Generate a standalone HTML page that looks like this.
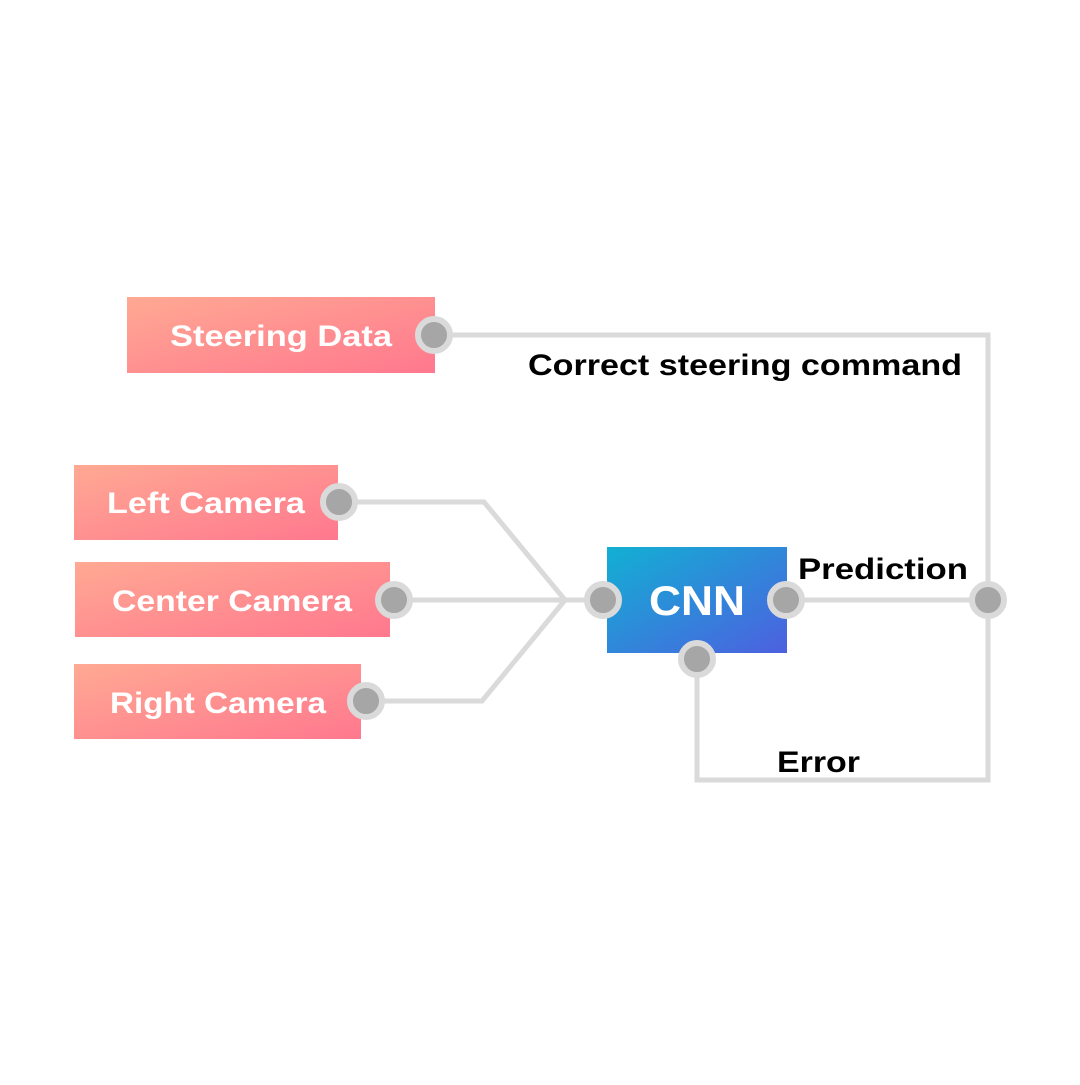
<!DOCTYPE html>
<html><head><meta charset="utf-8"><style>
html,body{margin:0;padding:0;background:#fff;}
svg text{font-family:"Liberation Sans",sans-serif;font-weight:bold;}
</style></head><body>
<svg width="1080" height="1080" viewBox="0 0 1080 1080" xmlns="http://www.w3.org/2000/svg">
<defs>
<linearGradient id="pk" x1="0" y1="0" x2="1" y2="1">
<stop offset="0" stop-color="#ffa993"/><stop offset="1" stop-color="#ff788e"/>
</linearGradient>
<linearGradient id="bl" x1="0" y1="0" x2="1" y2="1">
<stop offset="0" stop-color="#12b0d3"/><stop offset="1" stop-color="#4d60e0"/>
</linearGradient>
</defs>
<rect width="1080" height="1080" fill="#fff"/>
<g fill="none" stroke="#dadada" stroke-width="5">
<polyline points="434,335 988,335 988,780 697,780 697,659"/>
<polyline points="339,502 484,502 565,600"/>
<polyline points="366,701 482,701 565,600"/>
<line x1="394" y1="600" x2="603" y2="600"/>
<line x1="786" y1="600" x2="988" y2="600"/>
</g>
<rect x="127" y="297" width="308" height="76" fill="url(#pk)"/>
<rect x="74" y="465" width="264" height="75" fill="url(#pk)"/>
<rect x="75" y="562" width="315" height="75" fill="url(#pk)"/>
<rect x="74" y="664" width="287" height="75" fill="url(#pk)"/>
<rect x="607" y="547" width="180" height="106" fill="url(#bl)"/>
<g fill="#fff" font-size="30">
<text x="281" y="346" text-anchor="middle" textLength="222" lengthAdjust="spacingAndGlyphs">Steering Data</text>
<text x="206" y="513" text-anchor="middle" textLength="198" lengthAdjust="spacingAndGlyphs">Left Camera</text>
<text x="232" y="611" text-anchor="middle" textLength="240" lengthAdjust="spacingAndGlyphs">Center Camera</text>
<text x="218" y="713" text-anchor="middle" textLength="216" lengthAdjust="spacingAndGlyphs">Right Camera</text>
<text x="697" y="615" text-anchor="middle" font-size="42" textLength="96" lengthAdjust="spacingAndGlyphs">CNN</text>
</g>
<g fill="#000" font-size="30">
<text x="528" y="375" textLength="434" lengthAdjust="spacingAndGlyphs">Correct steering command</text>
<text x="798" y="579" textLength="170" lengthAdjust="spacingAndGlyphs">Prediction</text>
<text x="777" y="772" textLength="83" lengthAdjust="spacingAndGlyphs">Error</text>
</g>
<g fill="#a6a6a6" stroke="#dadada" stroke-width="6">
<circle cx="434" cy="335" r="16"/>
<circle cx="339" cy="502" r="16"/>
<circle cx="394" cy="600" r="16"/>
<circle cx="366" cy="701" r="16"/>
<circle cx="603" cy="600" r="16"/>
<circle cx="786" cy="600" r="16"/>
<circle cx="697" cy="659" r="16"/>
<circle cx="988" cy="600" r="16"/>
</g>
</svg>
</body></html>
